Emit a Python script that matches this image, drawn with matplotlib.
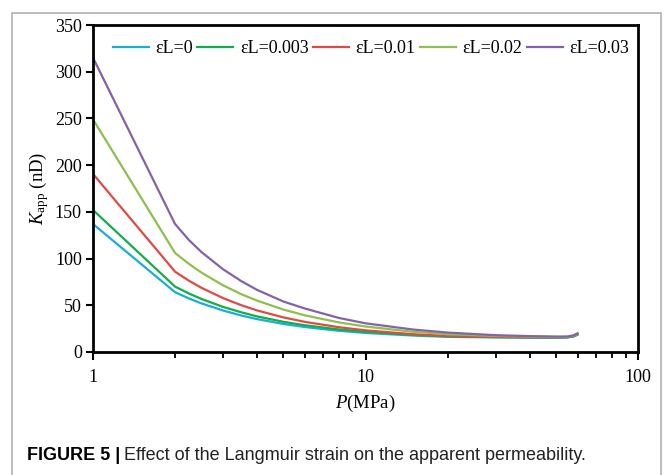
import numpy as np
import matplotlib
matplotlib.use("Agg")
import matplotlib.pyplot as plt
from matplotlib.patches import Rectangle
from matplotlib.ticker import LogLocator, NullFormatter, FixedLocator

# pressure points (MPa) and apparent permeability (nD)
pressure = [1, 2, 2.25, 2.5, 3, 3.5, 4, 5, 6, 8, 10, 15, 20, 30, 40, 50, 55, 58, 60]
k_eps0 = [137, 64, 57.3, 52, 44.4, 39.1, 35.2, 30, 26.7, 22.7, 20.4, 17.6, 16.2, 15.6, 15.3, 15.3, 15.5, 16.5, 18.5]
k_eps0003 = [152, 70, 62.6, 56.8, 48.3, 42.5, 38.1, 32.3, 28.6, 24.1, 21.6, 18.3, 16.8, 16.0, 15.6, 15.6, 15.8, 16.8, 19]
k_eps001 = [190.6, 86, 76.3, 68.7, 57.7, 50.1, 44.5, 37, 32.2, 26.5, 23.2, 19, 17.1, 16.2, 15.8, 15.8, 16, 17, 19]
k_eps002 = [249, 106, 94.3, 85, 71.4, 61.9, 55, 45.4, 39.2, 31.6, 27.3, 21.6, 19, 17.2, 16.5, 16.2, 16.3, 17.3, 19.5]
k_eps003 = [315, 137, 119.8, 107, 88.6, 75.9, 66.5, 54, 46.5, 36.4, 30.7, 24, 20.8, 18, 17, 16.5, 16.5, 17.8, 20]

labels = ["\u03b5L=0", "\u03b5L=0.003", "\u03b5L=0.01", "\u03b5L=0.02", "\u03b5L=0.03"]
colors = ["#1aaed3", "#12ae4a", "#e04a45", "#8dc04d", "#8562a8"]
series = [k_eps0, k_eps0003, k_eps001, k_eps002, k_eps003]

plt.rcParams['font.family'] = ['Liberation Serif', 'DejaVu Serif']
plt.rcParams['mathtext.fontset'] = 'custom'
plt.rcParams['mathtext.rm'] = 'Liberation Serif'
plt.rcParams['mathtext.it'] = 'Liberation Serif:italic'

fig = plt.figure(figsize=(6.64, 4.75), dpi=100)

# outer grey frame of the figure panel
fig.patches.append(Rectangle((12 / 664, -0.05), 649 / 664, 1 - 13 / 475 + 0.05,
                             transform=fig.transFigure, fill=False,
                             edgecolor="#b0b0b0", linewidth=1.2))

ax = fig.add_axes([93 / 664, 1 - 352 / 475, (638 - 93) / 664, (352 - 25) / 475])

for k, lab, c in zip(series, labels, colors):
    ax.plot(pressure, k, color=c, linewidth=1.6, label=lab)

ax.set_xscale('log')
ax.set_xlim(1, 100)
ax.set_ylim(0, 350)
ax.set_yticks(np.arange(0, 351, 50))
ax.xaxis.set_major_locator(FixedLocator([1, 10, 100]))
ax.set_xticklabels(["1", "10", "100"])
ax.xaxis.set_minor_locator(LogLocator(base=10, subs=np.arange(2, 10), numticks=10))
ax.xaxis.set_minor_formatter(NullFormatter())

for s in ax.spines.values():
    s.set_linewidth(2.0)
ax.tick_params(axis='both', which='major', direction='out', width=1.5, length=5,
               labelsize=13, pad=3)
ax.tick_params(axis='x', which='major', length=6, pad=6)
ax.tick_params(axis='x', which='minor', direction='out', width=1.3, length=4)

ax.set_xlabel("$P$(MPa)", fontsize=13.5, labelpad=5)
ax.set_ylabel("$K_{\\mathrm{app}}$ (nD)", fontsize=13.5, labelpad=3)

ax.legend(loc='upper center', ncol=5, frameon=False, fontsize=13,
          handlelength=2.0, handletextpad=0.35, columnspacing=0.25,
          bbox_to_anchor=(0.51, 1.0), borderaxespad=0.45)

cap_y = 1 - 456 / 475
t1 = fig.text(27 / 664, cap_y, "FIGURE 5 |", fontsize=13, fontweight='bold',
              family='Liberation Sans', va='center', ha='left')
fig.canvas.draw()
bb = t1.get_window_extent()
fig.text((bb.x1 + 4) / 664, cap_y, "Effect of the Langmuir strain on the apparent permeability.",
         fontsize=13, family='Liberation Sans', va='center', ha='left', color='#222222')

fig.savefig("out.png", dpi=100)
